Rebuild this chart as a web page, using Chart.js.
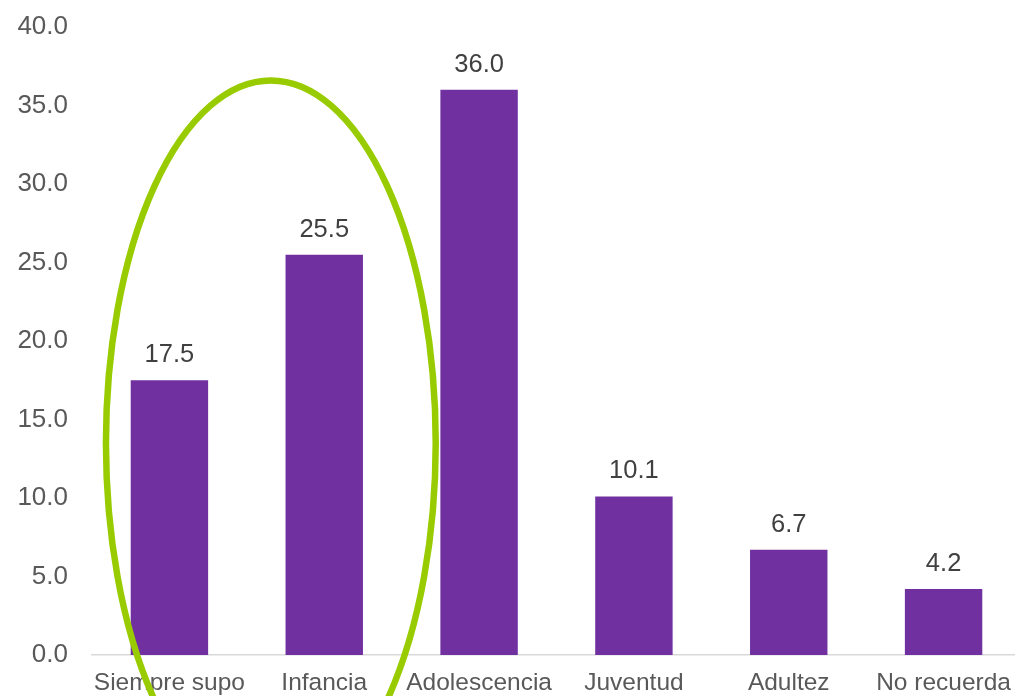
<!DOCTYPE html>
<html>
<head>
<meta charset="utf-8">
<script src="https://cdn.jsdelivr.net/npm/chart.js@4.4.1/dist/chart.umd.min.js"></script>
<style>
  html, body { margin: 0; padding: 0; background: #ffffff; overflow: hidden; }
  #wrap { position: relative; width: 1021px; height: 696px; }
</style>
</head>
<body>
<div id="wrap"><canvas id="c" width="1021" height="696"></canvas></div>
<script>
const categories = ["Siempre supo", "Infancia", "Adolescencia", "Juventud", "Adultez", "No recuerda"];
const values = [17.5, 25.5, 36.0, 10.1, 6.7, 4.2];
const yTicks = [0, 5, 10, 15, 20, 25, 30, 35, 40];

const FONT = "'Liberation Sans', Arial, sans-serif";

const dataLabels = {
  id: 'dataLabels',
  afterDatasetsDraw(chart) {
    const ctx = chart.ctx;
    const meta = chart.getDatasetMeta(0);
    ctx.save();
    ctx.font = "25.5px " + FONT;
    ctx.fillStyle = "#404040";
    ctx.textAlign = "center";
    ctx.textBaseline = "middle";
    meta.data.forEach((bar, i) => {
      ctx.fillText(values[i].toFixed(1), bar.x, bar.y - 25);
    });
    ctx.restore();
  }
};

const highlight = {
  id: 'highlight',
  afterDraw(chart) {
    const ctx = chart.ctx;
    const x = chart.scales.x, y = chart.scales.y;
    const x0 = x.getPixelForValue(0), x1 = x.getPixelForValue(1);
    const cx = x0 + (x1 - x0) * 0.655;
    const cy = y.getPixelForValue(13.5);
    const rx = (x1 - x0) * 1.065;
    const ry = y.getPixelForValue(0) - y.getPixelForValue(23.1);
    ctx.save();
    ctx.strokeStyle = "#99CC00";
    ctx.lineWidth = 6.5;
    ctx.beginPath();
    ctx.ellipse(cx, cy, rx, ry, 0, 0, Math.PI * 2);
    ctx.stroke();
    ctx.restore();
  }
};

new Chart(document.getElementById('c'), {
  type: 'bar',
  data: {
    labels: categories,
    datasets: [{
      data: values,
      backgroundColor: "#7030A0",
      borderWidth: 0,
      categoryPercentage: 1.0,
      barPercentage: 0.5
    }]
  },
  options: {
    responsive: false,
    animation: false,
    events: [],
    layout: { padding: { left: 0, right: 0, top: 27, bottom: 0 } },
    plugins: { legend: { display: false }, tooltip: { enabled: false } },
    scales: {
      x: {
        afterFit(scale) { scale.height = 41; scale.paddingLeft = 0; scale.paddingRight = 0; scale.paddingTop = 0; scale.paddingBottom = 0; },
        grid: { display: false, drawTicks: false },
        border: { display: true, color: "#D9D9D9", width: 1.5 },
        ticks: {
          color: "#595959",
          font: { family: FONT, size: 24.5, lineHeight: 1.0 },
          padding: 16,
          maxRotation: 0,
          autoSkip: false
        }
      },
      y: {
        min: 0,
        max: 40,
        afterBuildTicks(scale) { scale.ticks = yTicks.map(v => ({ value: v })); },
        afterFit(scale) { scale.width = 92; scale.paddingTop = 0; scale.paddingBottom = 0; scale.paddingLeft = 0; scale.paddingRight = 0; },
        grid: { display: false, drawTicks: false },
        border: { display: false },
        ticks: {
          color: "#595959",
          font: { family: FONT, size: 26 },
          padding: 24,
          callback: (v) => Number(v).toFixed(1)
        }
      }
    }
  },
  plugins: [dataLabels, highlight]
});
</script>
</body>
</html>
